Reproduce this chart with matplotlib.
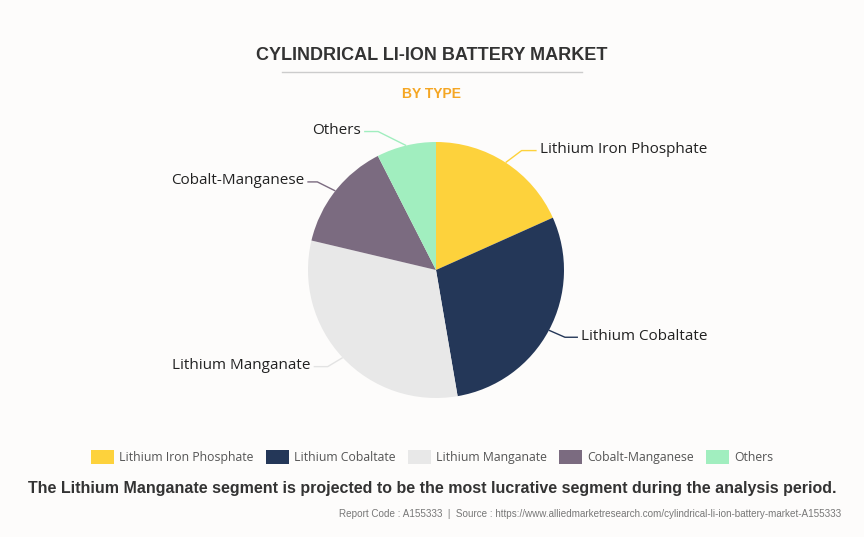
import matplotlib
matplotlib.use("Agg")
import matplotlib.pyplot as plt
from matplotlib.patches import FancyBboxPatch
from matplotlib.lines import Line2D
import numpy as np

categories = ["Lithium Iron Phosphate", "Lithium Cobaltate", "Lithium Manganate",
              "Cobalt-Manganese", "Others"]
values = [18.3, 29.0, 31.4, 13.8, 7.5]
colors = ["#FDD23C", "#243758", "#E8E8E8", "#7B6B80", "#A1EEBF"]
title = "CYLINDRICAL LI-ION BATTERY MARKET"
subtitle = "BY TYPE"
footer = "The Lithium Manganate segment is projected to be the most lucrative segment during the analysis period."
source = "Report Code : A155333  |  Source : https://www.alliedmarketresearch.com/cylindrical-li-ion-battery-market-A155333"

W, H = 864, 537
bg = "#FDFCFB"
fig = plt.figure(figsize=(W / 100, H / 100), dpi=100, facecolor=bg)

# pie axes: center (436,270) px, radius 128 px
cx, cy, R = 436, 270, 128
half = 220
ax = fig.add_axes([(cx - half) / W, (H - cy - half) / H, 2 * half / W, 2 * half / H])
ax.set_facecolor(bg)

wedges, _ = ax.pie(values, colors=colors, startangle=90, counterclock=False, radius=1,
                   wedgeprops=dict(linewidth=0))
ax.set_xlim(-half / R, half / R)
ax.set_ylim(-half / R, half / R)
ax.set_aspect("equal")
ax.axis("off")

label_font = "Open Sans"
def px(x, y):
    return ((x - cx) / R, (cy - y) / R)

total = sum(values)
cum = 0
label_cfg = [
    (16, -12, 15, "left"),
    (16, 7, 13, "left"),
    (-15, 9, -14, "right"),
    (-18, -9, -10, "right"),
    (-28, -14, -14, "right"),
]
line_colors = ["#FDD23C", "#243758", "#E3E3E3", "#7B6B80", "#A1EEBF"]
for i, v in enumerate(values):
    mid = (cum + v / 2) / total * 360
    cum += v
    ang = np.deg2rad(90 - mid)
    ex, ey = np.cos(ang), np.sin(ang)
    ex_px, ey_px = cx + R * ex, cy - R * ey
    edx, edy, endx, ha = label_cfg[i]
    p1 = (ex_px, ey_px)
    p2 = (ex_px + edx, ey_px + edy)
    p3 = (p2[0] + endx, p2[1])
    pts = [px(*p) for p in (p1, p2, p3)]
    ax.plot([p[0] for p in pts], [p[1] for p in pts], color=line_colors[i], lw=1,
            solid_capstyle="butt", clip_on=False)
    tx = p3[0] + (3 if ha == "left" else -3)
    ax.text(*px(tx, p3[1] - 1), categories[i], ha=ha, va="center", fontsize=11,
            family=label_font, color="#222222", clip_on=False)

# titles
fig.text(0.5, 1 - 56 / H, title, ha="center", va="center", fontsize=13,
         fontweight="bold", family="Liberation Sans", color="#333333")
fig.add_artist(Line2D([282 / W, 582 / W], [1 - 72 / H, 1 - 72 / H], color="#CCCCCC", lw=1))
fig.text(0.5, 1 - 94 / H, subtitle, ha="center", va="center", fontsize=10,
         fontweight="bold", family="Liberation Sans", color="#F5A623")

# legend
handles = [FancyBboxPatch((0, 0), 1, 1, boxstyle="round,pad=0.1", facecolor=c, edgecolor="none")
           for c in colors]
leg = fig.legend(handles, categories, loc="center", bbox_to_anchor=(0.5, 1 - 457 / H),
                 ncol=5, frameon=False, handlelength=1.9, handleheight=1.4,
                 handletextpad=0.4, columnspacing=1.0, prop=dict(family=label_font, size=8.8))
for t in leg.get_texts():
    t.set_color("#555555")

fig.text(0.5, 1 - 488 / H, footer, ha="center", va="center", fontsize=11.5,
         fontweight="bold", family="Liberation Sans", color="#333333")
fig.text(841 / W, 1 - 514 / H, source, ha="right", va="center", fontsize=7.15,
         family="Liberation Sans", color="#777777")

fig.savefig("out.png", dpi=100, facecolor=bg)
